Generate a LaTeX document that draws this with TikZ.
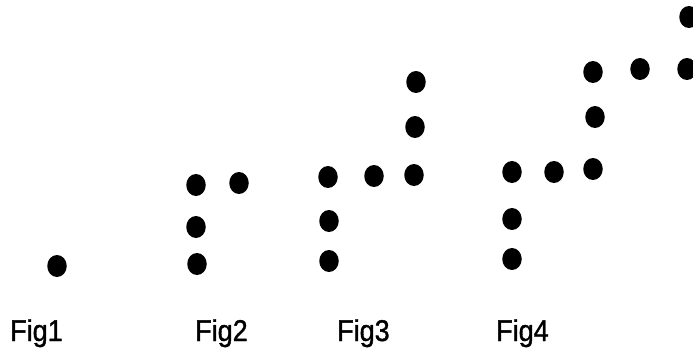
\documentclass[tikz,border=0pt]{standalone}
\usepackage{fontspec}
\setmainfont{Liberation Sans}
\newfontfamily\figfont[FakeBold=1.2]{Liberation Sans}
\usetikzlibrary{shapes.geometric}
\tikzset{
  dot/.style={ellipse, fill=black, draw=none, minimum width=19.5pt, minimum height=22pt, inner sep=0pt},
  figlabel/.style={anchor=base west, inner sep=0pt, xscale=0.9, transform shape, font=\figfont\fontsize{30}{32}\selectfont}
}
\begin{document}
\begin{tikzpicture}[x=1pt, y=-1pt]
\useasboundingbox (0,0) rectangle (693,349);
\clip (0,0) rectangle (693,349);
% Fig1
\node[dot] (a1) at (57,266) {};
% Fig2
\node[dot] (b1) at (196,185) {};
\node[dot] (b2) at (239,183) {};
\node[dot] (b3) at (196,227) {};
\node[dot] (b4) at (197,264) {};
% Fig3
\node[dot] (c1) at (328,177) {};
\node[dot] (c2) at (374,176) {};
\node[dot] (c3) at (414,175) {};
\node[dot] (c4) at (329,221) {};
\node[dot] (c5) at (329,261) {};
\node[dot] (c6) at (415,127) {};
\node[dot] (c7) at (416,82) {};
% Fig4
\node[dot] (d1) at (512,172) {};
\node[dot] (d2) at (554,172) {};
\node[dot] (d3) at (593,169) {};
\node[dot] (d4) at (512,219) {};
\node[dot] (d5) at (512,259) {};
\node[dot] (d6) at (595,117) {};
\node[dot] (d7) at (593,72) {};
\node[dot] (d8) at (640,69) {};
\node[dot] (d9) at (687,69) {};
\node[dot] (d10) at (689,17) {};
% labels
\node[figlabel] (l1) at (10,341) {Fig1};
\node[figlabel] (l2) at (195,341) {Fig2};
\node[figlabel] (l3) at (337,341) {Fig3};
\node[figlabel] (l4) at (496,341) {Fig4};
\end{tikzpicture}
\end{document}
